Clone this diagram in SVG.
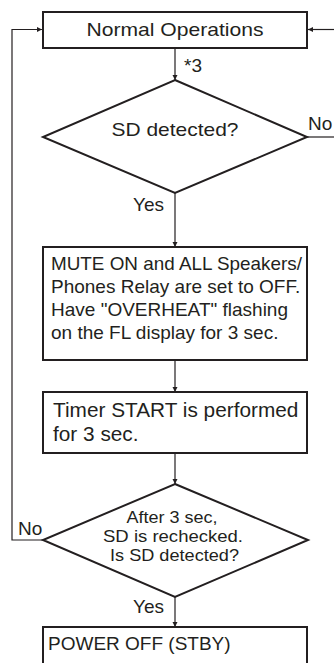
<svg xmlns="http://www.w3.org/2000/svg" width="334" height="663" viewBox="0 0 334 663">
<style>
.box{fill:#fff;stroke:#231f20;stroke-width:2}
.ln{fill:none;stroke:#231f20;stroke-width:1.2}
text{font-family:"Liberation Sans",Arial,sans-serif;fill:#231f20;font-size:19px}
.c{text-anchor:middle}
.d2{font-size:16.5px}
</style>
<defs>
<marker id="ah" viewBox="0 0 10 10" refX="10" refY="5" markerWidth="5" markerHeight="7" markerUnits="userSpaceOnUse" orient="auto">
<path d="M0,0 L10,5 L0,10 z" fill="#231f20"/>
</marker>
</defs>
<rect width="334" height="663" fill="#fff"/>
<g id="connectors">
<line class="ln" x1="175" y1="48" x2="175" y2="80" marker-end="url(#ah)"/>
<line class="ln" x1="175" y1="193" x2="175" y2="247" marker-end="url(#ah)"/>
<line class="ln" x1="175" y1="360" x2="175" y2="392" marker-end="url(#ah)"/>
<line class="ln" x1="175" y1="453" x2="175" y2="484" marker-end="url(#ah)"/>
<line class="ln" x1="175" y1="597" x2="175" y2="627" marker-end="url(#ah)"/>
<polyline class="ln" points="43,540 12,540 12,29.5 42,29.5" marker-end="url(#ah)"/>
<polyline class="ln" points="307,137 334,137"/>
<line class="ln" x1="334" y1="29.5" x2="308" y2="29.5" marker-end="url(#ah)"/>
<text x="184" y="72">*3</text>
<text x="308" y="130">No</text>
<text x="133" y="211">Yes</text>
<text x="18" y="535">No</text>
<text x="133" y="613">Yes</text>
</g>
<g id="normal">
<rect class="box" x="43" y="12" width="264" height="36"/>
<text class="c" x="175" y="36" textLength="177" lengthAdjust="spacingAndGlyphs">Normal Operations</text>
</g>
<g id="sd1">
<polygon class="box" points="175,80 307,137 175,193 43,137"/>
<text class="c" x="175" y="136" textLength="127" lengthAdjust="spacingAndGlyphs">SD detected?</text>
</g>
<g id="mute">
<rect class="box" x="43" y="247" width="264" height="113"/>
<text x="51" y="270" textLength="251" lengthAdjust="spacingAndGlyphs">MUTE ON and ALL Speakers/</text>
<text x="51" y="293">Phones Relay are set to OFF.</text>
<text x="51" y="316">Have "OVERHEAT" flashing</text>
<text x="51" y="339">on the FL display for 3 sec.</text>
</g>
<g id="timer">
<rect class="box" x="43" y="392" width="264" height="61"/>
<text x="53" y="417" style="font-size:20.8px">Timer START is performed</text>
<text x="53" y="441" style="font-size:20.8px">for 3 sec.</text>
</g>
<g id="sd2">
<polygon class="box" points="175,484 308,540 175,597 43,540"/>
<text class="c d2" x="172" y="523" textLength="91" lengthAdjust="spacingAndGlyphs">After 3 sec,</text>
<text class="c d2" x="173" y="542" textLength="140" lengthAdjust="spacingAndGlyphs">SD is rechecked.</text>
<text class="c d2" x="174.5" y="561" textLength="129" lengthAdjust="spacingAndGlyphs">Is SD detected?</text>
</g>
<g id="power">
<rect class="box" x="43" y="627" width="264" height="45"/>
<text x="48" y="650">POWER OFF (STBY)</text>
</g>
</svg>
